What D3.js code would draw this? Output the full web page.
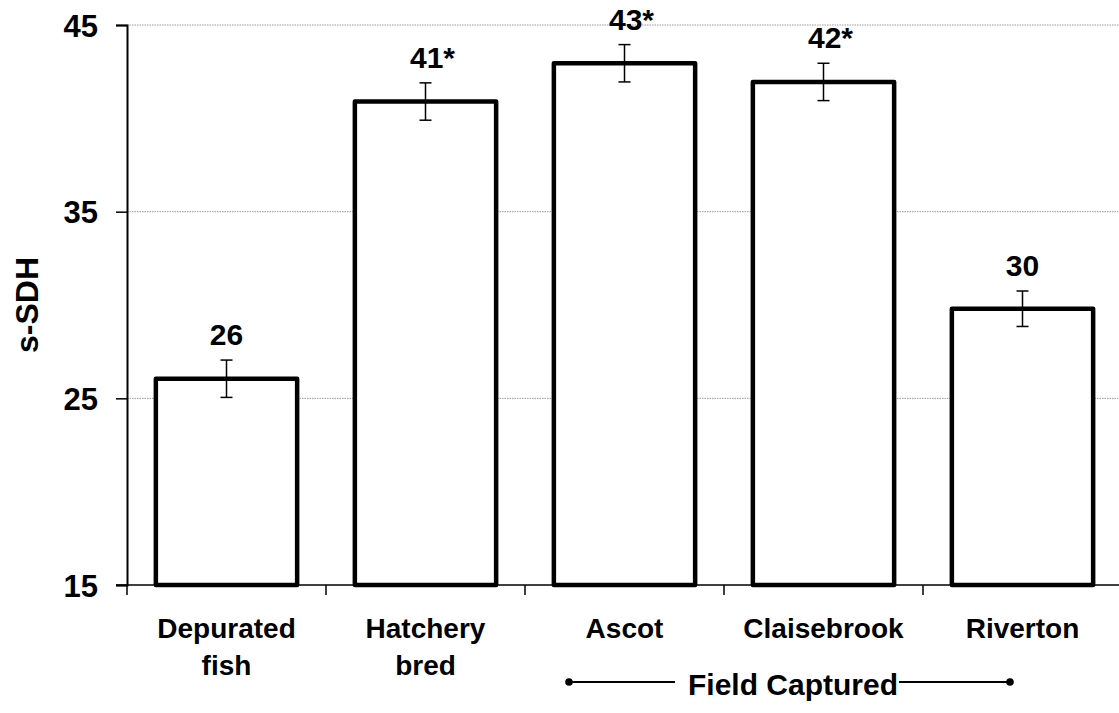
<!DOCTYPE html>
<html>
<head>
<meta charset="utf-8">
<script src="https://cdn.jsdelivr.net/npm/d3@7"></script>
<style>
  html, body { margin: 0; padding: 0; background: #fff; }
  svg { display: block; font-family: "Liberation Sans", Arial, sans-serif; }
</style>
</head>
<body>
<svg id="chart" width="1119" height="713"></svg>
<script>
// s-SDH by fish group (mean ± error)
const categories = [["Depurated", "fish"], ["Hatchery", "bred"], ["Ascot"], ["Claisebrook"], ["Riverton"]];
const values = [26.05, 40.9, 42.95, 41.95, 29.8];
const errors = [1.0, 1.0, 1.0, 1.0, 0.95];
const markers = ["", "*", "*", "*", ""];
const yTicks = [15, 25, 35, 45];
const groupLabel = "Field Captured";
const groupMembers = [2, 4]; // first and last category index in the group

const svg = d3.select("#chart");
const plotLeft = 127, plotRight = 1122, plotTop = 25, plotBottom = 585;

const x = d3.scaleBand()
  .domain(d3.range(categories.length))
  .range([plotLeft, plotRight])
  .padding(0);

const y = d3.scaleLinear().domain([15, 45]).range([plotBottom, plotTop]);

// dotted horizontal gridlines
svg.append("g")
  .selectAll("line")
  .data(yTicks.filter(t => t > 15))
  .join("line")
  .attr("x1", plotLeft).attr("x2", 1119)
  .attr("y1", d => y(d)).attr("y2", d => y(d))
  .attr("stroke", "#9a9a9a")
  .attr("stroke-width", 1)
  .attr("stroke-dasharray", "1.5,1");

// y axis
const yAxis = svg.append("g")
  .attr("transform", `translate(${plotLeft},0)`)
  .call(d3.axisLeft(y).tickValues(yTicks).tickSize(11).tickPadding(18));
yAxis.select(".domain").attr("stroke", "#000").attr("stroke-width", 2);
yAxis.selectAll(".tick line").attr("stroke", "#000").attr("stroke-width", 1.5);
yAxis.selectAll(".tick text")
  .attr("font-size", 31).attr("font-weight", "bold").attr("fill", "#000")
  .attr("font-family", "Liberation Sans, Arial, sans-serif")
  .attr("dy", "0.36em");

// x axis baseline and category boundary ticks
svg.append("line")
  .attr("x1", plotLeft - 11).attr("x2", 1119)
  .attr("y1", plotBottom).attr("y2", plotBottom)
  .attr("stroke", "#000").attr("stroke-width", 1.5);
const edges = d3.range(categories.length + 1).map(i => plotLeft + i * x.step());
svg.append("g").selectAll("line")
  .data(edges)
  .join("line")
  .attr("x1", d => d).attr("x2", d => d)
  .attr("y1", plotBottom).attr("y2", plotBottom + 10)
  .attr("stroke", "#000").attr("stroke-width", 1.5);

// bars
const barW = x.bandwidth() * 0.71;
const cx = i => x(i) + x.bandwidth() / 2;
svg.append("g").selectAll("rect")
  .data(values)
  .join("rect")
  .attr("x", (d, i) => cx(i) - barW / 2)
  .attr("y", d => y(d))
  .attr("width", barW)
  .attr("height", d => y(15) - y(d))
  .attr("fill", "#fff")
  .attr("stroke", "#000")
  .attr("stroke-width", 4.5)
  .attr("stroke-linejoin", "round");

// error bars
const eb = svg.append("g").attr("stroke", "#000").attr("stroke-width", 1.5);
values.forEach((v, i) => {
  const hi = y(v + errors[i]), lo = y(v - errors[i]);
  eb.append("line").attr("x1", cx(i)).attr("x2", cx(i)).attr("y1", hi).attr("y2", lo);
  eb.append("line").attr("x1", cx(i) - 6).attr("x2", cx(i) + 6).attr("y1", hi).attr("y2", hi);
  eb.append("line").attr("x1", cx(i) - 6).attr("x2", cx(i) + 6).attr("y1", lo).attr("y2", lo);
});

// value labels
svg.append("g").selectAll("text")
  .data(values)
  .join("text")
  .attr("x", (d, i) => cx(i) + (markers[i] ? 7 : 0))
  .attr("y", (d, i) => y(d + errors[i]) - 15)
  .attr("text-anchor", "middle")
  .attr("font-size", 30).attr("font-weight", "bold")
  .text((d, i) => Math.round(d) + markers[i]);

// category labels
const cat = svg.append("g").selectAll("text")
  .data(categories)
  .join("text")
  .attr("text-anchor", "middle")
  .attr("font-size", 28).attr("font-weight", "bold");
cat.each(function(lines, i) {
  d3.select(this).selectAll("tspan")
    .data(lines)
    .join("tspan")
    .attr("x", cx(i))
    .attr("y", (d, j) => 638 + j * 37)
    .text(d => d);
});

// group bracket for field-captured sites
const gy = 682;
const gStart = x(groupMembers[0]) + 44;
const gEnd = x(groupMembers[1]) + x.bandwidth() - 112;
const g = svg.append("g");
g.append("line").attr("x1", gStart).attr("x2", gStart + 106).attr("y1", gy).attr("y2", gy)
  .attr("stroke", "#000").attr("stroke-width", 2);
g.append("line").attr("x1", gEnd - 111).attr("x2", gEnd).attr("y1", gy).attr("y2", gy)
  .attr("stroke", "#000").attr("stroke-width", 2);
g.selectAll("circle").data([gStart, gEnd]).join("circle")
  .attr("cx", d => d).attr("cy", gy).attr("r", 3.8).attr("fill", "#000");
g.append("text")
  .attr("x", (gStart + 106 + gEnd - 113) / 2 + 7)
  .attr("y", 695)
  .attr("text-anchor", "middle")
  .attr("font-size", 30).attr("font-weight", "bold")
  .text(groupLabel);

// y axis title
svg.append("text")
  .attr("transform", "translate(38,305) rotate(-90)")
  .attr("text-anchor", "middle")
  .attr("font-size", 32).attr("font-weight", "bold")
  .text("s-SDH");
</script>
</body>
</html>
